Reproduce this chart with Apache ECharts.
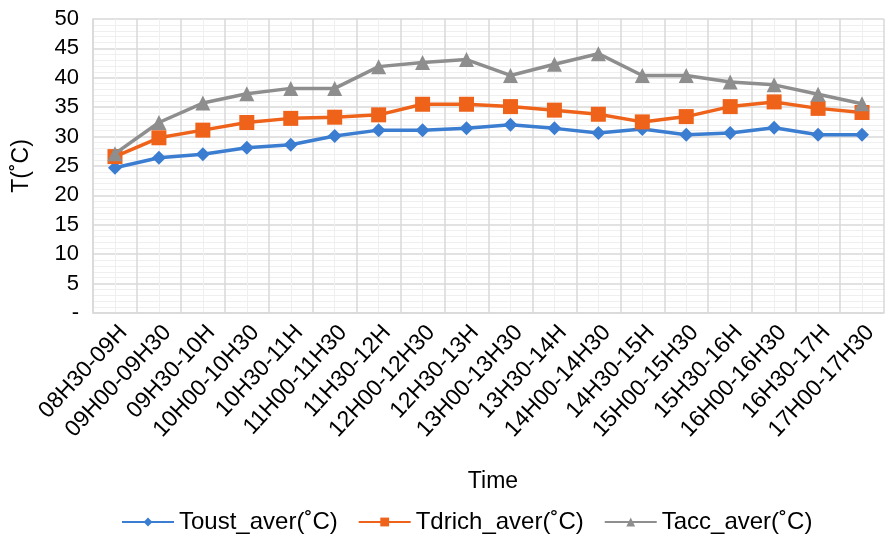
<!DOCTYPE html>
<html><head><meta charset="utf-8">
<script src="https://cdn.jsdelivr.net/npm/echarts@6/dist/echarts.min.js"></script>
<style>html,body{margin:0;padding:0;background:#fff}#c{width:885px;height:536px}</style>
</head><body><div id="c"></div>
<script>
var categories = ["08H30-09H","09H00-09H30","09H30-10H","10H00-10H30","10H30-11H","11H00-11H30","11H30-12H","12H00-12H30","12H30-13H","13H00-13H30","13H30-14H","14H00-14H30","14H30-15H","15H00-15H30","15H30-16H","16H00-16H30","16H30-17H","17H00-17H30"];
var toust = [24.7,26.4,27.0,28.1,28.6,30.1,31.1,31.1,31.4,32.0,31.4,30.6,31.3,30.3,30.6,31.5,30.3,30.3];
var tdrich = [26.6,29.8,31.1,32.4,33.1,33.3,33.7,35.5,35.5,35.1,34.5,33.8,32.5,33.4,35.1,35.9,34.8,34.1];
var tacc = [27.1,32.4,35.7,37.3,38.2,38.2,41.9,42.6,43.1,40.4,42.3,44.1,40.4,40.4,39.3,38.8,37.2,35.6];
var names = ["Toust_aver(˚C)","Tdrich_aver(˚C)","Tacc_aver(˚C)"];
var colors = ["#3B7DD0","#EE621A","#8E8E8E"];

var chart = echarts.init(document.getElementById('c'));
var font = "'Liberation Sans', Arial, sans-serif";
function mk(i, data, symbol, size) {
  return {name: names[i], type: 'line', data: data, symbol: symbol, symbolSize: size,
    xAxisIndex: 0, yAxisIndex: 0,
    lineStyle: {color: colors[i], width: 3.5}, itemStyle: {color: colors[i]}, z: 3 + i};
}
chart.setOption({
  animation: false,
  textStyle: {fontFamily: font},
  grid: {left: 93, right: 1, top: 19, bottom: 223, containLabel: false},
  xAxis: [{
    type: 'category', data: categories, boundaryGap: true,
    name: 'Time', nameLocation: 'middle', nameGap: 157,
    nameTextStyle: {fontSize: 23, color: '#000', fontFamily: font, padding: [0, 0, 0, 9]},
    axisLine: {show: true, lineStyle: {color: '#d9d9d9', width: 1.5}},
    axisTick: {show: false},
    axisLabel: {rotate: 47, fontSize: 23, color: '#000', margin: 8, interval: 0,
      verticalAlign: 'top', fontFamily: font},
    splitLine: {show: true, lineStyle: {color: '#d9d9d9', width: 1.5}}
  }, {
    type: 'value', min: 0, max: 18, interval: 1, position: 'bottom',
    axisLine: {show: false}, axisTick: {show: false}, axisLabel: {show: false},
    splitLine: {show: false},
    minorTick: {show: false, splitNumber: 2},
    minorSplitLine: {show: true, lineStyle: {color: '#efefef', width: 1}}
  }],
  yAxis: [{
    type: 'value', min: 0, max: 50, interval: 5,
    name: 'T(˚C)', nameLocation: 'middle', nameGap: 60, nameRotate: 90,
    nameTextStyle: {fontSize: 23, color: '#000', fontFamily: font},
    axisLine: {show: true, lineStyle: {color: '#d9d9d9', width: 1.5}},
    axisTick: {show: false},
    axisLabel: {fontSize: 22, color: '#000', margin: 14, fontFamily: font,
      formatter: function (v) { return v === 0 ? '-' : String(v); }},
    splitLine: {show: true, lineStyle: {color: '#d9d9d9', width: 1.5}},
    minorTick: {show: false, splitNumber: 5},
    minorSplitLine: {show: true, lineStyle: {color: '#efefef', width: 1}}
  }],
  legend: {
    top: 505, left: 116, itemGap: 20, itemWidth: 52, itemHeight: 11,
    textStyle: {fontSize: 24, color: '#000', fontFamily: font},
    data: names
  },
  series: [
    mk(0, toust, 'diamond', 14),
    mk(1, tdrich, 'rect', 15),
    mk(2, tacc, 'triangle', 15)
  ]
});
</script></body></html>
